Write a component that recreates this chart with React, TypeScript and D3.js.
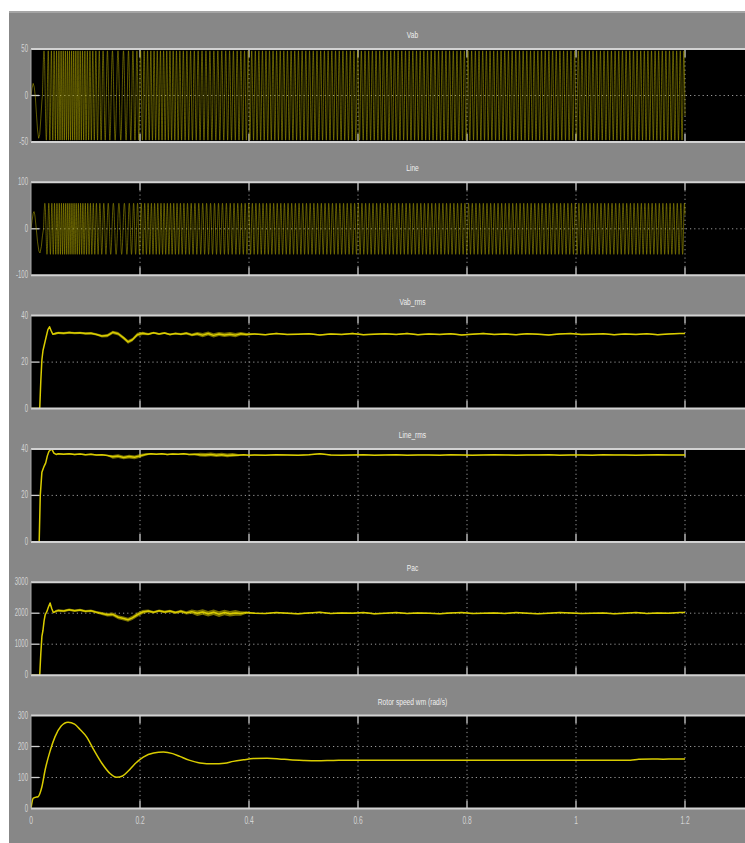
import React from 'react';
import * as d3 from 'd3';

const W = 745;
const H = 843;

const titles = ['Vab', 'Line', 'Vab_rms', 'Line_rms', 'Pac', 'Rotor speed wm (rad/s)'];
const yDomains: [number, number][] = [[-50, 50], [-100, 100], [0, 40], [0, 40], [0, 3000], [0, 300]];
const yTicks: number[][] = [[-50, 0, 50], [-100, 0, 100], [0, 20, 40], [0, 20, 40], [0, 1000, 2000, 3000], [0, 100, 200, 300]];
const yTickLabels: string[][] = [['-50', '0', '50'], ['-100', '0', '100'], ['0', '20', '40'], ['0', '20', '40'], ['0', '1000', '2000', '3000'], ['0', '100', '200', '300']];
const xTicks = [0, 0.2, 0.4, 0.6, 0.8, 1, 1.2];
const xTickLabels = ['0', '0.2', '0.4', '0.6', '0.8', '1', '1.2'];

// Rotor speed wm (rad/s) [t, value]
const speed: [number, number][] = [
  [0, 0], [0.004, 33], [0.008, 36], [0.013, 38], [0.02, 70], [0.026, 125], [0.035, 185], [0.044, 231],
  [0.055, 265], [0.068, 278], [0.08, 272], [0.09, 255], [0.102, 231], [0.115, 190], [0.13, 146],
  [0.145, 113], [0.157, 101], [0.168, 105], [0.178, 120], [0.19, 143], [0.206, 166], [0.225, 179],
  [0.243, 182], [0.26, 177], [0.273, 168], [0.29, 156], [0.31, 147], [0.335, 144], [0.355, 146],
  [0.371, 152], [0.39, 157], [0.408, 161], [0.433, 162], [0.455, 160], [0.475, 157], [0.5, 155],
  [0.524, 154], [0.555, 155], [0.6, 156], [0.7, 156], [0.8, 156], [0.9, 156], [1.0, 156], [1.1, 156],
  [1.115, 159], [1.14, 160], [1.16, 159], [1.18, 160], [1.2, 160],
];

// Initial transients of the AC quantities before the dense oscillation starts
const vabStart: [number, number][] = [
  [0, 0], [0.002, 8], [0.004, 13], [0.006, 9], [0.008, -2], [0.010, -20], [0.012, -37], [0.014, -46], [0.016, -42], [0.018, -25], [0.020, -6], [0.021, 0],
];
const lineStart: [number, number][] = [
  [0, 0], [0.002, 18], [0.004, 33], [0.0055, 37], [0.007, 30], [0.009, 8], [0.012, -28], [0.0145, -48], [0.0165, -52], [0.019, -38], [0.021, -15], [0.023, 0],
];
// Envelope (amplitude) of the oscillation
const vabAmp: [number, number][] = [[0.021, 48], [0.2, 48], [1.2, 48]];
const lineAmp: [number, number][] = [[0.023, 55], [0.2, 55], [1.2, 55]];
const hzPerRadS = 0.95; // electrical frequency per rotor speed

// Vab_rms
const vabRmsHead: [number, number][] = [
  [0, 0], [0.016, 0], [0.018, 12], [0.020, 21], [0.022, 25], [0.025, 28], [0.028, 31], [0.031, 34], [0.034, 35.2],
  [0.037, 33.5], [0.040, 32.0], [0.045, 32.3], [0.05, 32.6], [0.06, 32.4], [0.07, 32.7], [0.08, 32.5], [0.09, 32.6],
  [0.10, 32.3], [0.11, 32.4], [0.12, 31.9], [0.13, 31.2], [0.14, 31.4], [0.15, 32.8], [0.16, 32.2], [0.17, 30.4],
  [0.178, 28.7], [0.186, 29.6], [0.195, 31.8], [0.205, 32.4], [0.215, 32.0], [0.225, 32.6], [0.235, 32.1],
  [0.245, 32.5], [0.255, 31.9], [0.265, 32.3], [0.275, 32.0], [0.285, 32.4], [0.295, 31.7], [0.305, 32.2],
  [0.315, 31.6], [0.325, 32.3], [0.335, 31.5], [0.345, 32.1], [0.355, 31.7], [0.365, 32.0], [0.375, 31.6],
  [0.385, 32.2], [0.395, 31.9],
];
const vabRmsTail = [32.1, 31.8, 32.3, 31.9, 32.0, 32.2, 31.7, 32.1, 31.9, 32.3, 31.8, 32.0, 32.2, 31.9, 32.3, 31.8, 32.1, 31.9, 32.2, 31.7, 32.0, 32.3, 31.9, 32.1, 31.8, 32.2, 32.0, 31.7, 32.1, 32.3, 31.9, 32.0, 32.2, 31.8, 32.1, 31.9, 32.2, 31.8, 32.1, 32.3];
const vabRmsBand: [number, number][] = [[0, 0], [0.03, 0], [0.045, 0.5], [0.12, 0.5], [0.14, 0.7], [0.2, 0.8], [0.22, 0.4], [0.29, 0.5], [0.31, 0.9], [0.38, 0.9], [0.41, 0.3], [1.2, 0.25]];

// Line_rms
const lineRmsHead: [number, number][] = [
  [0, 0], [0.015, 0], [0.017, 20], [0.020, 30], [0.024, 32.5], [0.027, 34], [0.030, 37], [0.033, 39],
  [0.038, 40], [0.042, 38.2], [0.046, 37.6], [0.05, 37.9], [0.06, 37.7], [0.07, 37.9], [0.08, 37.6], [0.09, 37.8],
  [0.10, 37.5], [0.11, 37.7], [0.12, 37.4], [0.13, 37.5], [0.14, 37.2], [0.15, 36.6], [0.16, 36.9], [0.17, 36.3],
  [0.18, 36.7], [0.19, 36.4], [0.20, 37.0], [0.21, 37.6], [0.22, 37.9], [0.23, 37.7], [0.24, 37.9], [0.25, 37.6],
  [0.26, 37.8], [0.27, 37.7], [0.28, 37.9], [0.29, 37.6], [0.30, 37.7], [0.31, 37.5], [0.32, 37.4], [0.33, 37.6],
  [0.34, 37.3], [0.35, 37.5], [0.36, 37.2], [0.37, 37.4], [0.38, 37.3], [0.39, 37.5], [0.40, 37.3],
];
const lineRmsTail = [37.4, 37.3, 37.5, 37.4, 37.3, 37.5, 37.9, 37.4, 37.3, 37.4, 37.5, 37.3, 37.4, 37.5, 37.3, 37.4, 37.4, 37.3, 37.5, 37.4, 37.3, 37.4, 37.5, 37.4, 37.3, 37.4, 37.4, 37.5, 37.3, 37.4, 37.4, 37.3, 37.5, 37.4, 37.4, 37.3, 37.4, 37.5, 37.4, 37.4];
const lineRmsBand: [number, number][] = [[0, 0], [0.045, 0], [0.05, 0.3], [0.14, 0.3], [0.15, 0.8], [0.2, 0.8], [0.22, 0.3], [0.3, 0.3], [0.31, 0.8], [0.37, 0.8], [0.39, 0.2], [1.2, 0.15]];

// Pac
const pacHead: [number, number][] = [
  [0, 0], [0.016, 0], [0.018, 700], [0.020, 1250], [0.022, 1450], [0.024, 1750], [0.026, 1950], [0.029, 2050],
  [0.032, 2200], [0.035, 2330], [0.038, 2150], [0.041, 2020], [0.045, 2060], [0.05, 2090], [0.06, 2070],
  [0.07, 2110], [0.08, 2080], [0.09, 2100], [0.10, 2060], [0.11, 2080], [0.12, 2030], [0.13, 1990], [0.14, 1950],
  [0.15, 1960], [0.16, 1870], [0.17, 1830], [0.178, 1790], [0.186, 1850], [0.195, 1950], [0.205, 2040],
  [0.215, 2070], [0.225, 2030], [0.235, 2080], [0.245, 2040], [0.255, 2070], [0.265, 2020], [0.275, 2060],
  [0.285, 2010], [0.295, 2050], [0.305, 2000], [0.315, 2040], [0.325, 1980], [0.335, 2030], [0.345, 1970],
  [0.355, 2020], [0.365, 1980], [0.375, 2010], [0.385, 1990], [0.395, 2020],
];
const pacTail = [2000, 1990, 2020, 2000, 1980, 2010, 2030, 1990, 2010, 2000, 2020, 1980, 2000, 2020, 1990, 2010, 2000, 1980, 2010, 2020, 1990, 2000, 2010, 1990, 2020, 2000, 1980, 2000, 2020, 2010, 1990, 2000, 2010, 1980, 2000, 2020, 1990, 2010, 2000, 2020];
const pacBand: [number, number][] = [[0, 0], [0.04, 0], [0.045, 40], [0.12, 40], [0.14, 60], [0.2, 70], [0.22, 40], [0.29, 50], [0.3, 90], [0.38, 90], [0.4, 20], [1.2, 15]];

const tailStart = 0.41;
const tailStep = 0.02;

// ---------- layout ----------
const plotLeft = 31;
const xScale = d3.scaleLinear().domain([0, 1.4]).range([plotLeft, 794]);
const panelTop0 = 49;
const panelStep = 133.3;
const panelH = 93;

const BG = '#878787';
const TRACE = '#b3aa00';
const RMS = '#d9cc00';

function withTail(head: [number, number][], tail: number[]): [number, number][] {
  const pts = head.slice();
  tail.forEach((v, i) => pts.push([tailStart + i * tailStep, v]));
  pts.push([1.2, tail[tail.length - 1]]);
  return pts;
}

function interpolator(pts: [number, number][]) {
  return d3.scaleLinear().domain(pts.map((p) => p[0])).range(pts.map((p) => p[1])).clamp(true);
}

function buildWave(start: [number, number][], amp: [number, number][], tEnd: number): [number, number][] {
  const sp = interpolator(speed);
  const am = interpolator(amp);
  const pts = start.slice();
  const t0 = start[start.length - 1][0];
  const dt = 0.0001;
  let phase = 0;
  for (let t = t0 + dt; t <= tEnd + 1e-9; t += dt) {
    phase += 2 * Math.PI * hzPerRadS * sp(t) * dt;
    pts.push([t, am(t) * Math.sin(phase)]);
  }
  return pts;
}

interface Series {
  pts: [number, number][];
  band?: [number, number][];
  dense?: boolean;
  smooth?: boolean;
}

const seriesList: Series[] = [
  { pts: buildWave(vabStart, vabAmp, 1.2), dense: true },
  { pts: buildWave(lineStart, lineAmp, 1.2), dense: true },
  { pts: withTail(vabRmsHead, vabRmsTail), band: vabRmsBand },
  { pts: withTail(lineRmsHead, lineRmsTail), band: lineRmsBand },
  { pts: withTail(pacHead, pacTail), band: pacBand },
  { pts: speed, smooth: true },
];

function Panel({ idx }: { idx: number }) {
  const top = panelTop0 + idx * panelStep;
  const bottom = top + panelH;
  const y = d3.scaleLinear().domain(yDomains[idx]).range([bottom, top]);
  const s = seriesList[idx];
  const line = d3
    .line<[number, number]>()
    .x((d) => xScale(d[0]))
    .y((d) => y(d[1]))
    .curve(s.smooth ? d3.curveMonotoneX : d3.curveLinear);
  let areaPath: string | null = null;
  if (s.band) {
    const bw = interpolator(s.band);
    const area = d3
      .area<[number, number]>()
      .x((d) => xScale(d[0]))
      .y0((d) => y(d[1] - bw(d[0])))
      .y1((d) => y(d[1] + bw(d[0])));
    areaPath = area(s.pts);
  }
  const clipId = `clip${idx}`;
  const tickLen = 8;
  const innerY = yTicks[idx].filter((v) => v !== yDomains[idx][0] && v !== yDomains[idx][1]);
  return (
    <g>
      <defs>
        <clipPath id={clipId}>
          <rect x={plotLeft} y={top} width={W - plotLeft} height={panelH} />
        </clipPath>
      </defs>
      <rect x={plotLeft} y={top} width={W - plotLeft} height={panelH} fill="#000" />
      {/* vertical grid */}
      {xTicks.filter((v) => v > 0).map((v) => (
        <g key={'vx' + v}>
          <line x1={xScale(v)} x2={xScale(v)} y1={top + tickLen} y2={bottom - tickLen} stroke="#9a9a9a" strokeWidth={1} strokeDasharray="1.2,3" />
          <line x1={xScale(v)} x2={xScale(v)} y1={top} y2={top + tickLen} stroke="#cfcfcf" strokeWidth={1.3} />
          <line x1={xScale(v)} x2={xScale(v)} y1={bottom - tickLen} y2={bottom} stroke="#cfcfcf" strokeWidth={1.3} />
        </g>
      ))}
      {/* horizontal grid */}
      {innerY.map((v) => (
        <g key={'hy' + v}>
          <line x1={plotLeft + tickLen} x2={W} y1={y(v)} y2={y(v)} stroke="#9a9a9a" strokeWidth={1} strokeDasharray="1.2,3" />
          <line x1={plotLeft} x2={plotLeft + tickLen} y1={y(v)} y2={y(v)} stroke="#cfcfcf" strokeWidth={1.3} />
        </g>
      ))}
      <g clipPath={`url(#${clipId})`}>
        {areaPath && <path d={areaPath} fill={RMS} fillOpacity={0.55} stroke="none" />}
        <path
          d={line(s.pts) || ''}
          fill="none"
          stroke={s.dense ? TRACE : RMS}
          strokeWidth={s.dense ? 0.6 : 1.5}
          strokeOpacity={s.dense ? 0.9 : 1}
          strokeLinejoin="round"
        />
      </g>
      {/* frame */}
      <line x1={plotLeft} x2={W} y1={top} y2={top} stroke="#d2d2d2" strokeWidth={2} />
      <line x1={plotLeft} x2={W} y1={bottom} y2={bottom} stroke="#d2d2d2" strokeWidth={2} />
      <line x1={plotLeft} x2={plotLeft} y1={top} y2={bottom} stroke="#a8a8a8" strokeWidth={1} />
      {/* title */}
      <text
        transform={`translate(${xScale(0.7)},${top - 11}) scale(0.7,1)`}
        textAnchor="middle"
        fontSize={9.5}
        fontFamily="Liberation Sans, Arial, sans-serif"
        fill="#efefef"
      >
        {titles[idx]}
      </text>
      {/* y tick labels */}
      {yTicks[idx].map((v, i) => (
        <text
          key={'yl' + v}
          transform={`translate(28,${y(v)}) scale(0.6,1)`}
          textAnchor="end"
          dominantBaseline="central"
          fontSize={10}
          fontFamily="Liberation Sans, Arial, sans-serif"
          fill="#d4d4d4"
        >
          {yTickLabels[idx][i]}
        </text>
      ))}
    </g>
  );
}

export default function App() {
  const lastBottom = panelTop0 + 5 * panelStep + panelH;
  return (
    <svg
      width={W}
      height={H}
      viewBox={`0 0 ${W} ${H}`}
      style={{ position: 'absolute', left: 0, top: 0, display: 'block' }}
    >
      <rect x={0} y={0} width={W} height={H} fill="#ffffff" />
      <rect x={9} y={11} width={W - 9} height={H - 11} fill={BG} />
      <rect x={9} y={11} width={W - 9} height={2} fill="#a5a5a5" />
      {titles.map((_, i) => (
        <Panel key={i} idx={i} />
      ))}
      {xTicks.map((v, i) => (
        <text
          key={'xl' + v}
          transform={`translate(${xScale(v)},${lastBottom + 12}) scale(0.6,1)`}
          textAnchor="middle"
          dominantBaseline="central"
          fontSize={11}
          fontFamily="Liberation Sans, Arial, sans-serif"
          fill="#d4d4d4"
        >
          {xTickLabels[i]}
        </text>
      ))}
    </svg>
  );
}
